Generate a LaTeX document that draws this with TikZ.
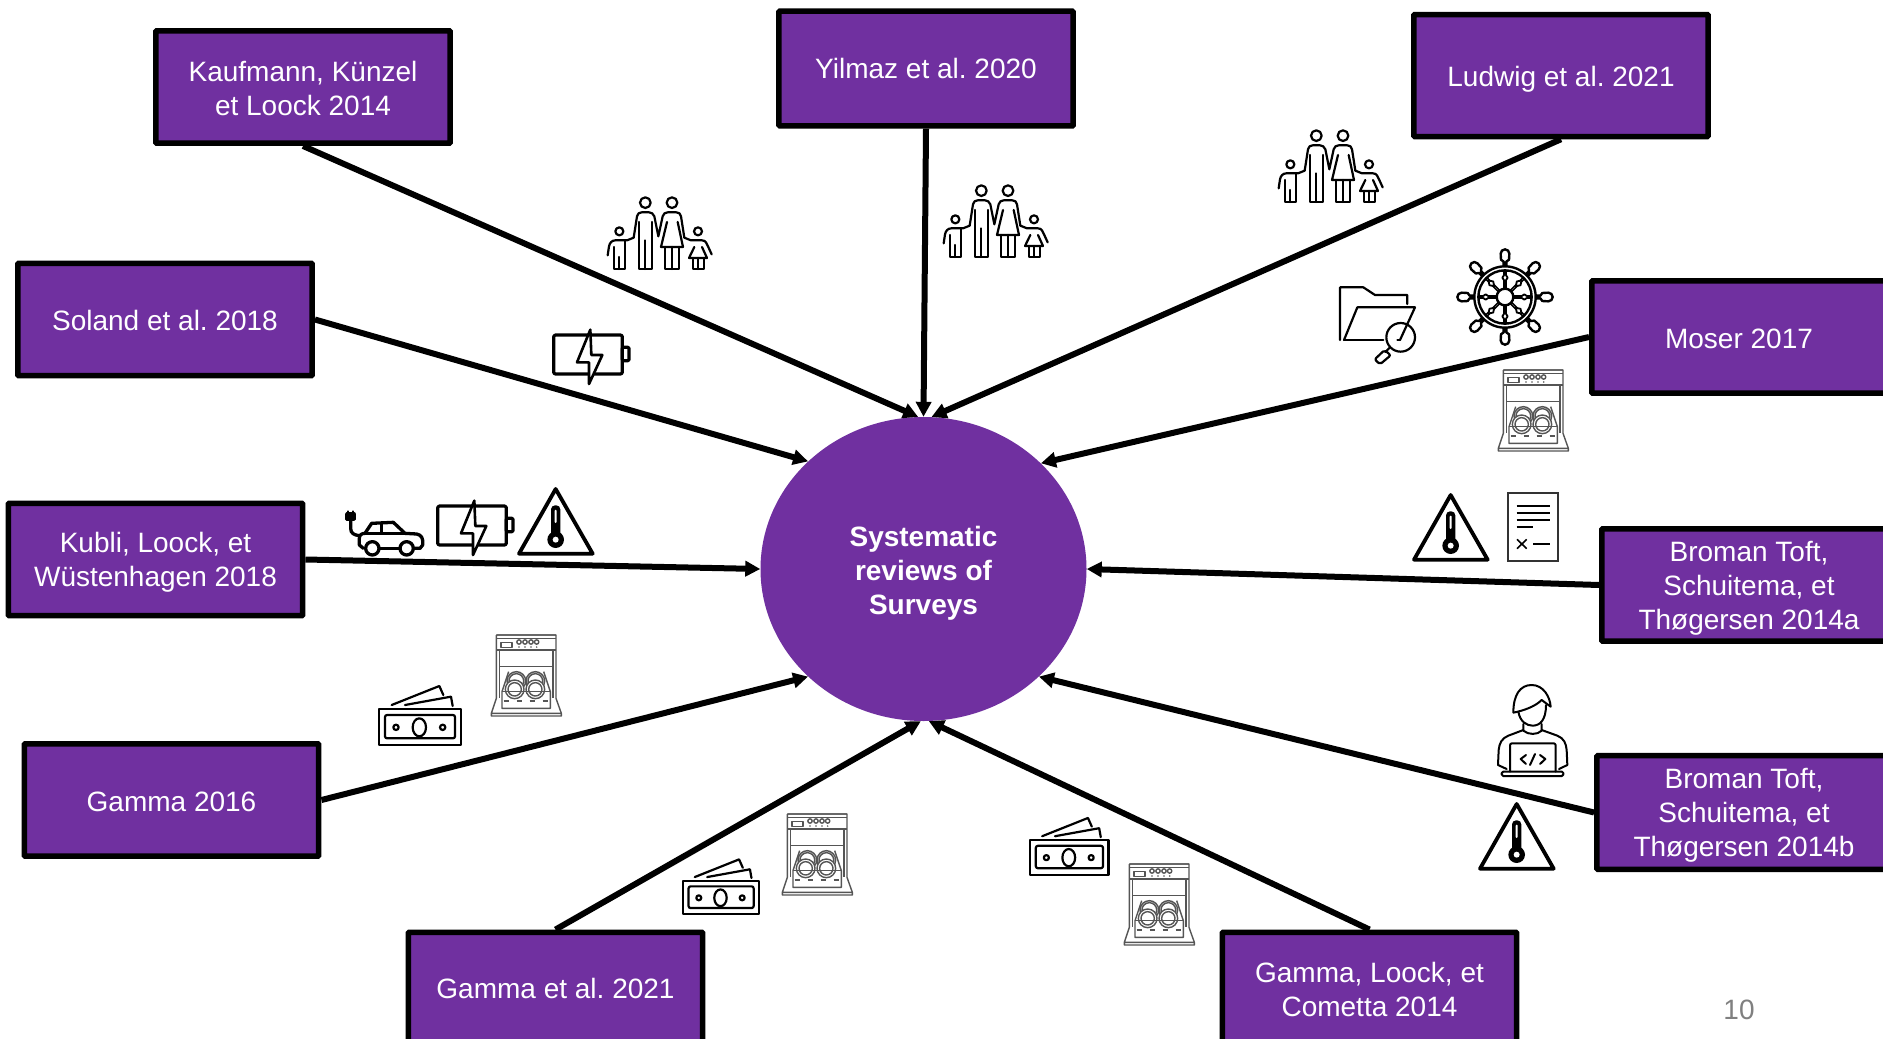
\documentclass[tikz,border=0pt]{standalone}
\usepackage{fontspec}
\setmainfont{Liberation Sans}
\usetikzlibrary{arrows.meta,shapes.geometric}
\definecolor{ppl}{HTML}{7030A0}
\definecolor{dishgray}{HTML}{555555}
\frenchspacing
\newcommand\dn[1]{\rule{0pt}{\dimexpr 20pt+#1pt*2\relax}}
\tikzset{
  box/.style={draw=black,fill=ppl,line width=5.5pt,minimum width=294.4pt,minimum height=112.4pt,text=white,align=center,
    font=\fontsize{28}{34}\selectfont,inner sep=0pt,rounded corners=1pt},
  hubnode/.style={ellipse,fill=ppl,minimum width=326pt,minimum height=304pt,text=white,align=center,inner sep=0pt,
    font=\bfseries\fontsize{28}{34}\selectfont},
  arr/.style={line width=6pt,-{Triangle[length=15pt,width=15pt]}},
  ic/.style={line width=2.2pt,line join=round,line cap=round},
  icthin/.style={line width=1.4pt,draw=dishgray,line join=round},
}
\newcommand\iconfamily[2]{\begin{scope}[shift={(#1,#2)},scale=1/3,ic]
  \draw (115,17) circle[radius=16] (195,17) circle[radius=16] (37,103) circle[radius=12] (273,103) circle[radius=12];
  \draw (80,122) -- (90,58) .. controls (92,50) and (96,46) .. (104,46) -- (126,46) .. controls (134,46) and (138,50) .. (142,58) -- (154,118) -- (167,58) .. controls (170,50) and (174,46) .. (182,46) -- (208,46) .. controls (216,46) and (220,50) .. (222,58) -- (232,122);
  \draw (95,75) -- (95,216) -- (135,216) -- (135,75) (115,130) -- (115,216);
  \draw (180,75) -- (162,150) -- (228,150) -- (212,75);
  \draw (175,150) -- (175,216) -- (215,216) -- (215,150) (195,150) -- (195,216);
  \draw (80,122) -- (60,130) -- (25,130) .. controls (14,130) and (8,138) .. (6,148) -- (2,175);
  \draw (20,150) -- (20,216) -- (53,216) -- (53,130) (37,180) -- (37,216);
  \draw (232,122) -- (252,130) -- (285,130) .. controls (296,130) and (300,140) .. (303,148) -- (314,172);
  \draw (262,150) -- (246,183) -- (300,183) -- (285,150);
  \draw (257,183) -- (257,216) -- (290,216) -- (290,183) (273,183) -- (273,216);
\end{scope}}
\newcommand\iconbattery[2]{\begin{scope}[shift={(#1,#2)},scale=1/3,line width=3.2pt,line join=round]
  \draw[rounded corners=2pt] (2,18) rectangle (208,135);
  \draw[rounded corners=1pt] (208,55) rectangle (228,95);
  \draw[fill=white,line width=2.6pt] (112,2) -- (72,100) -- (108,100) -- (108,165) -- (148,78) -- (115,78) -- cycle;
\end{scope}}
\newcommand\iconwarn[2]{\begin{scope}[shift={(#1,#2)},scale=1/3,line join=round]
  \draw[line width=3.8pt] (113,3) -- (3,197) -- (224,197) -- cycle;
  \fill[black,rounded corners=4pt] (99,52) rectangle (127,150);
  \fill (113,155) circle[radius=25];
  \fill[white] (113,155) circle[radius=9];
  \fill[white,rounded corners=1pt] (110,65) rectangle (116,105);
\end{scope}}
\newcommand\icondish[2]{\begin{scope}[shift={(#1,#2)},scale=1/3,icthin]
  \draw (-182,0) -- (-3,0) (-182,0) -- (-182,190) -- (-197,235) -- (13,235) -- (13,243) -- (-197,243) -- (-197,235);
  \draw (-182,0) -- (-3,0) -- (-3,190) -- (13,235);
  \draw (-182,10) -- (-3,10) (-182,45) -- (-3,45) (-172,45) -- (-172,190) (-12,45) -- (-12,190) (-172,95) -- (-12,95);
  \draw (-168,22) rectangle (-135,38);
  \foreach \x in {-114,-96,-78,-61} {\draw (\x,21) circle[radius=6.5]; \fill[dishgray] (\x,36) circle[radius=2.5];}
  \draw (-122,138) circle[radius=28] (-122,138) circle[radius=22] (-65,138) circle[radius=28] (-65,138) circle[radius=22];
  \draw[fill=white] (-127,163) circle[radius=28] (-65,163) circle[radius=28];
  \draw (-127,163) circle[radius=20] (-65,163) circle[radius=20];
  \draw (-145,110) -- (-165,170) -- (-165,220) -- (-20,220) -- (-20,170) -- (-40,110);
  \draw (-165,170) -- (-20,170);
  \draw[dash pattern=on 5pt off 8pt] (-160,198) -- (-25,198);
\end{scope}}
\newcommand\iconmoney[3]{\begin{scope}[shift={(#1,#2)},scale=#3,ic]
  \draw (27,267) rectangle (272,375);
  \draw[rounded corners=2pt] (45,285) rectangle (255,355);
  \draw (148,322) ellipse[x radius=20,y radius=27];
  \draw (78,322) circle[radius=8] (218,322) circle[radius=8];
  \draw (65,255) -- (208,198) -- (220,225) (105,255) -- (243,230) -- (248,258);
\end{scope}}
\begin{document}
\begin{tikzpicture}[x=1pt,y=-1pt]
\useasboundingbox (0,0) rectangle (1883,1039);
\fill[white] (0,0) rectangle (1883,1039);
% nodes
\node[hubnode] (hub) at (923.5,569) {\dn{4.5}Systematic\\reviews of\\Surveys};
\node[box] (kauf) at (303,87) {\dn{1.2}Kaufmann, Künzel\\et Loock 2014};
\node[box,minimum height=114.8pt] (yil) at (926,68.5) {\dn{0.6}Yilmaz et al. 2020};
\node[box,minimum height=122pt] (lud) at (1561,75.5) {\dn{3.6}Ludwig et al. 2021};
\node[box] (sol) at (165,319.5) {\dn{1.2}Soland et al. 2018};
\node[box] (mos) at (1739,337) {\dn{1.2}Moser 2017};
\node[box] (kub) at (155.5,559.5) {\dn{3}Kubli, Loock, et\\Wüstenhagen 2018};
\node[box] (broa) at (1749,585) {\dn{3.6}Broman Toft,\\Schuitema, et\\Thøgersen 2014a};
\node[box] (gam) at (171.5,800) {\dn{1.8}Gamma 2016};
\node[box,minimum height=113.6pt] (brob) at (1744,812.5) {\dn{2.4}Broman Toft,\\Schuitema, et\\Thøgersen 2014b};
\node[box] (gam21) at (555.5,988.5) {\dn{0.6}Gamma et al. 2021};
\node[box] (gaml) at (1369.5,988.5) {\dn{1.2}Gamma, Loock, et\\Cometta 2014};
% connectors
\draw[arr] (kauf.south) -- (hub.92);
\draw[arr] (yil.south) -- (hub.90);
\draw[arr] (lud.south) -- (hub.87);
\draw[arr] (sol.east) -- (hub.137);
\draw[arr] (mos.west) -- (hub.42);
\draw[arr] (kub.east) -- (hub.180);
\draw[arr] (broa.west) -- (hub.0);
\draw[arr] (gam.east) -- (hub.223);
\draw[arr] (brob.west) -- (hub.-43);
\draw[arr] (gam21.north) -- (hub.-91);
\draw[arr] (gaml.north) -- (hub.-88);
% icons
\iconfamily{607}{197}
\iconfamily{943}{185}
\iconfamily{1278}{130}
\iconbattery{553}{329}
\iconbattery{437}{500}
\iconwarn{518}{488}
\iconwarn{1413}{494}
\iconwarn{1479}{803}
% car with plug
\begin{scope}[shift={(330,470)},scale=1/3,line width=3.3pt,line join=round,line cap=round]
  \draw[fill=black] (50,132) -- (50,148) -- (72,148) -- (72,132) -- cycle;
  \draw[line width=2.2pt] (53,124) -- (53,132) (69,124) -- (69,132);
  \draw (62,150) -- (62,175) .. controls (62,190) and (72,195) .. (88,197);
  \draw (100,235) -- (88,225) -- (88,205) .. controls (88,195) and (95,190) .. (105,190) -- (125,160) -- (190,157) -- (225,190) -- (260,192) .. controls (275,195) and (280,205) .. (278,225) -- (270,235) -- (250,235);
  \draw (150,235) -- (210,235);
  \draw (105,190) -- (225,190) (155,158) -- (155,190);
  \draw (127,235) circle[radius=20] (230,235) circle[radius=20];
\end{scope}
% folder with magnifier
\begin{scope}[shift={(1320,230)},scale=1/3,line width=2.2pt,line join=round,line cap=round]
  \draw (60,330) -- (60,172) -- (130,172) -- (165,195) -- (262,195) -- (262,222);
  \draw (72,330) -- (112,232) -- (285,232) -- (240,330);
  \draw (72,330) -- (190,330) (240,330) -- (232,330);
  \draw (242,322) circle[radius=43];
  \draw (208,354) -- (196,366);
  \draw[rounded corners=2pt] (194,360) -- (212,376) -- (180,403) -- (164,388) -- cycle;
\end{scope}
% ship wheel
\begin{scope}[shift={(1505,297)},scale=1/3,line width=2.4pt,line join=round]
  \foreach \a in {0,45,...,315} {
    \begin{scope}[rotate=\a]
      \draw[line width=1.5pt] (25,-3) -- (82,-3) (25,3) -- (82,3);
      \draw[line width=1.8pt,fill=white] (46,0) -- (58,-8) -- (70,0) -- (58,8) -- cycle;
      \draw[fill=white] (92,-4) -- (106,-4) -- (112,-12) -- (130,-13) arc[start angle=-90,end angle=90,radius=13] -- (112,12) -- (106,4) -- (92,4);
    \end{scope}
  }
  \draw[fill=white] (0,0) circle[radius=25];
  \draw (0,0) circle[radius=80] (0,0) circle[radius=92];
\end{scope}
% dishwashers
\icondish{1564}{370}
\icondish{557}{635}
\icondish{848}{814}
\icondish{1190}{864}
% document
\begin{scope}[shift={(1390,480)},scale=1/3]
  \draw[line width=2.2pt,draw=black!80] (353,40) rectangle (505,242);
  \draw[line width=1.6pt] (380,78) -- (480,78) (380,99) -- (480,99) (380,120) -- (480,120) (380,141) -- (430,141) (430,192) -- (480,192);
  \draw[line width=1.6pt] (381,178) -- (410,206) (410,178) -- (381,206);
\end{scope}
% coder
\begin{scope}[shift={(1460,670)},scale=1/3,line width=2pt,line join=round,line cap=round]
  \draw (160,128) .. controls (160,75) and (180,45) .. (215,45) .. controls (250,45) and (270,80) .. (272,110) -- (245,90) .. controls (225,110) and (190,122) .. (160,128);
  \draw (175,125) .. controls (180,155) and (200,167) .. (218,167) .. controls (240,167) and (258,150) .. (258,105);
  \draw (190,162) -- (190,182) .. controls (205,195) and (232,195) .. (245,182) -- (245,162);
  \draw (190,180) -- (145,197) .. controls (125,205) and (118,220) .. (116,240) -- (114,285) -- (140,297);
  \draw (245,180) -- (292,197) .. controls (312,205) and (318,220) .. (320,240) -- (322,285) -- (297,297);
  \draw[rounded corners=2pt] (150,305) -- (150,220) -- (287,220) -- (287,305);
  \draw[rounded corners=1.5pt] (125,305) rectangle (310,318);
  \draw (198,255) -- (182,267) -- (198,282) (225,252) -- (210,285) (240,255) -- (256,267) -- (240,282);
\end{scope}
% money
\iconmoney{370}{620}{1/3}
\iconmoney{674.6}{798}{0.31}
\iconmoney{1021.4}{754.6}{0.32}
% page number
\node[text=black!50,font=\fontsize{28}{34}\selectfont,inner sep=0pt] (pagenum) at (1739,1010) {10};
\end{tikzpicture}
\end{document}
